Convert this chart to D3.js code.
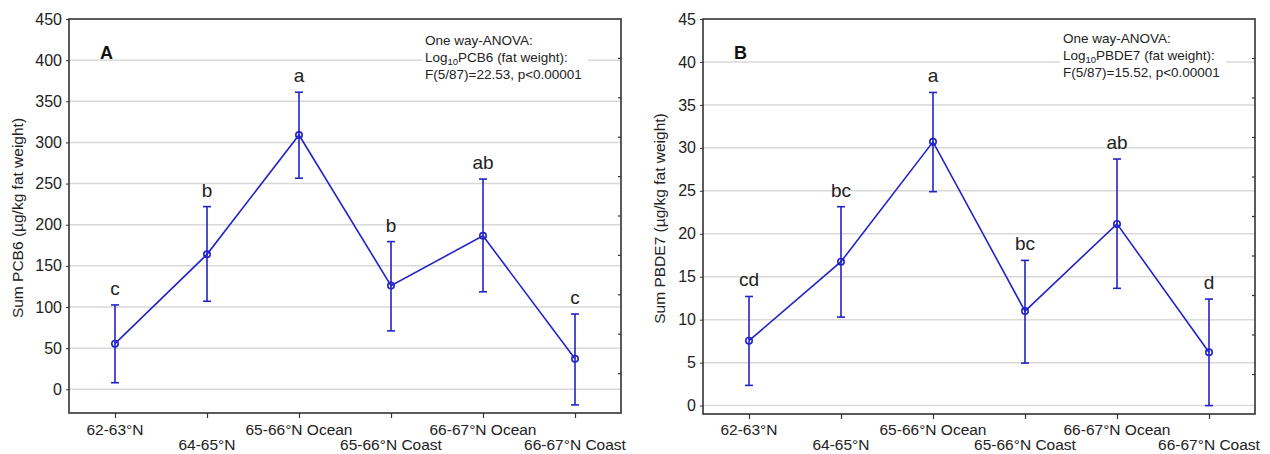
<!DOCTYPE html>
<html>
<head>
<meta charset="utf-8">
<script src="https://cdn.jsdelivr.net/npm/d3@7/dist/d3.min.js"></script>
<style>
  html, body { margin: 0; padding: 0; background: #fff; }
  svg { display: block; font-family: "Liberation Sans", Arial, sans-serif; }
</style>
</head>
<body>
<svg id="chart" width="1270" height="454"></svg>
<script>
// ---------- data ----------
const categories = ["62-63°N", "64-65°N", "65-66°N Ocean", "65-66°N Coast", "66-67°N Ocean", "66-67°N Coast"];

const pcbMean  = [55.5, 164, 309, 126, 186.5, 37];
const pcbUpper = [102.5, 222, 361, 179.5, 255.5, 91.5];
const pcbLower = [8, 107, 256.5, 71, 118.5, -19];
const pcbLetters = ["c", "b", "a", "b", "ab", "c"];
const pcbTicks = [0, 50, 100, 150, 200, 250, 300, 350, 400, 450];

const pbdeMean  = [7.55, 16.75, 30.7, 11.0, 21.15, 6.2];
const pbdeUpper = [12.7, 23.15, 36.45, 16.9, 28.7, 12.4];
const pbdeLower = [2.35, 10.3, 24.9, 4.95, 13.65, 0.0];
const pbdeLetters = ["cd", "bc", "a", "bc", "ab", "d"];
const pbdeTicks = [0, 5, 10, 15, 20, 25, 30, 35, 40, 45];

const svg = d3.select("#chart");
const BLUE = "#2323c8";
const GRID = "#d9d9d9";
const FRAME = "#333333";

function drawPanel(cfg) {
  const { left, right, top, bottom, yDomain, ticks, mean, upper, lower, letters,
          panelLabel, yTitle, yTitleX, compound, annX, annY } = cfg;
  const g = svg.append("g");
  const x = d3.scalePoint().domain(categories).range([left, right]).padding(0.5);
  const y = d3.scaleLinear().domain(yDomain).range([bottom, top]);

  // gridlines
  g.append("g").selectAll("line").data(ticks.filter(t => t !== yDomain[1])).join("line")
    .attr("x1", left).attr("x2", right)
    .attr("y1", d => y(d)).attr("y2", d => y(d))
    .attr("stroke", GRID).attr("stroke-width", 1.5);

  // annotation (white box behind)
  const ann = g.append("g");
  ann.append("rect").attr("x", annX - 3).attr("y", annY - 14).attr("width", 166).attr("height", 55).attr("fill", "#fff");
  ann.append("text").attr("font-size", 13.5).attr("fill", "#222").attr("x", annX).attr("y", annY)
    .text("One way-ANOVA:");
  const l2 = ann.append("text").attr("font-size", 13.5).attr("fill", "#222").attr("x", annX).attr("y", annY + 16.5);
  l2.append("tspan").text("Log");
  l2.append("tspan").attr("font-size", 9.5).attr("dy", 3).text("10");
  l2.append("tspan").attr("dy", -3).text(compound + " (fat weight):");
  ann.append("text").attr("font-size", 13.5).attr("fill", "#222").attr("x", annX).attr("y", annY + 33.5)
    .text(cfg.stat);

  // left axis
  const yAxis = d3.axisLeft(y).tickValues(ticks).tickSize(3).tickPadding(4).tickFormat(d3.format("d"));
  const ya = g.append("g").attr("transform", `translate(${left},0)`).call(yAxis);
  ya.select(".domain").remove();
  ya.selectAll("line").attr("stroke", FRAME);
  ya.selectAll("text").attr("font-size", 16).attr("fill", "#222").attr("font-family", "Liberation Sans, Arial, sans-serif");

  // right axis ticks (10 equal divisions, inward)
  const rScale = d3.scaleLinear().domain([0, 10]).range([bottom, top]);
  g.append("g").selectAll("line").data(d3.range(1, 10)).join("line")
    .attr("x1", right - 3).attr("x2", right)
    .attr("y1", d => rScale(d)).attr("y2", d => rScale(d))
    .attr("stroke", FRAME).attr("stroke-width", 1.2);

  // bottom axis
  const xAxis = d3.axisBottom(x).tickSize(5).tickFormat("");
  const xa = g.append("g").attr("transform", `translate(0,${bottom})`).call(xAxis);
  xa.select(".domain").remove();
  xa.selectAll("line").attr("stroke", FRAME).attr("stroke-width", 1.2);
  g.append("g").selectAll("text").data(categories).join("text")
    .attr("x", d => x(d))
    .attr("y", (d, i) => i % 2 === 0 ? 435 : 450)
    .attr("text-anchor", "middle").attr("font-size", 15.5).attr("fill", "#222")
    .text(d => d);

  // frame
  g.append("rect").attr("x", left).attr("y", top).attr("width", right - left).attr("height", bottom - top)
    .attr("fill", "none").attr("stroke", FRAME).attr("stroke-width", 1.6);

  // y title
  g.append("text").attr("transform", `translate(${yTitleX},${(top + bottom) / 2 + 2}) rotate(-90)`)
    .attr("text-anchor", "middle").attr("font-size", 15.5).attr("fill", "#222").text(yTitle);

  // panel label
  g.append("text").attr("x", left + 31).attr("y", 59).attr("font-size", 18).attr("font-weight", "bold")
    .attr("fill", "#111").text(panelLabel);

  // data
  const rows = categories.map((c, i) => ({ c, m: mean[i], u: upper[i], l: lower[i], s: letters[i] }));
  const line = d3.line().x(d => x(d.c)).y(d => y(d.m));
  g.append("path").datum(rows).attr("d", line).attr("fill", "none").attr("stroke", BLUE).attr("stroke-width", 1.6);

  const eb = g.append("g").selectAll("g").data(rows).join("g");
  eb.append("line").attr("x1", d => x(d.c)).attr("x2", d => x(d.c))
    .attr("y1", d => y(d.u)).attr("y2", d => y(d.l)).attr("stroke", BLUE).attr("stroke-width", 1.6);
  eb.append("line").attr("x1", d => x(d.c) - 4).attr("x2", d => x(d.c) + 4)
    .attr("y1", d => y(d.u)).attr("y2", d => y(d.u)).attr("stroke", BLUE).attr("stroke-width", 1.6);
  eb.append("line").attr("x1", d => x(d.c) - 4).attr("x2", d => x(d.c) + 4)
    .attr("y1", d => y(d.l)).attr("y2", d => y(d.l)).attr("stroke", BLUE).attr("stroke-width", 1.6);
  eb.append("circle").attr("cx", d => x(d.c)).attr("cy", d => y(d.m)).attr("r", 3.2)
    .attr("fill", "none").attr("stroke", BLUE).attr("stroke-width", 1.6);
  eb.append("text").attr("x", d => x(d.c)).attr("y", d => y(d.u) - 10)
    .attr("text-anchor", "middle").attr("font-size", 19).attr("fill", "#222").text(d => d.s);
}

drawPanel({
  left: 69, right: 621, top: 19, bottom: 413,
  yDomain: [-28.8, 450], ticks: pcbTicks,
  mean: pcbMean, upper: pcbUpper, lower: pcbLower, letters: pcbLetters,
  panelLabel: "A", yTitle: "Sum PCB6 (µg/kg fat weight)", yTitleX: 23,
  compound: "PCB6", stat: "F(5/87)=22.53, p<0.00001", annX: 425, annY: 45
});

drawPanel({
  left: 703, right: 1255, top: 19, bottom: 414,
  yDomain: [-0.98, 45], ticks: pbdeTicks,
  mean: pbdeMean, upper: pbdeUpper, lower: pbdeLower, letters: pbdeLetters,
  panelLabel: "B", yTitle: "Sum PBDE7 (µg/kg fat weight)", yTitleX: 665,
  compound: "PBDE7", stat: "F(5/87)=15.52, p<0.00001", annX: 1063, annY: 43
});
</script>
</body>
</html>
